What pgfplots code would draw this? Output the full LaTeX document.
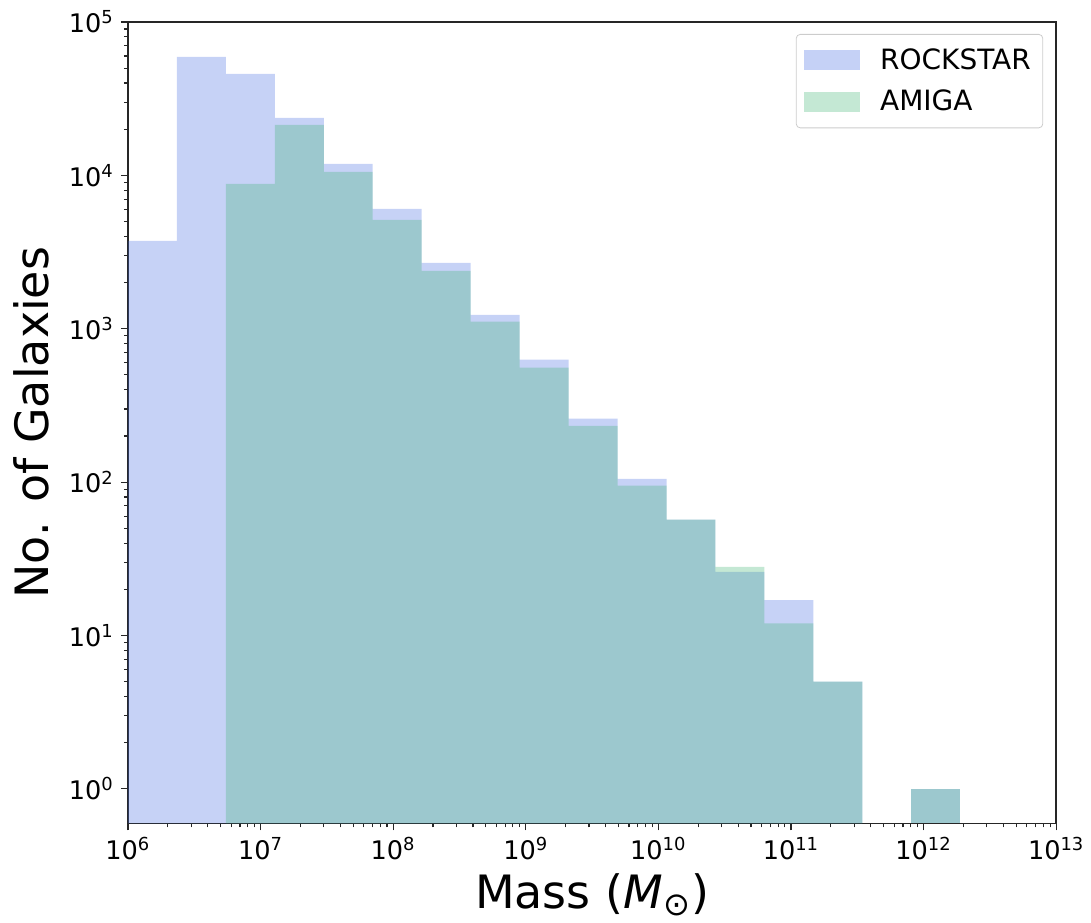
\documentclass[border=0pt]{standalone}
\usepackage{pgfplots}
\pgfplotsset{compat=1.18}
\usepackage{fontspec}
\setmainfont{DejaVu Sans}

\definecolor{rsblue}{RGB}{65,105,225}
\definecolor{amgreen}{RGB}{60,179,113}

% Galaxy mass histograms (log-spaced bins, left edges; last row closes the final bin)
\pgfplotstableread{
edge      count
1.000e6   3740
2.340e6   59150
5.476e6   45840
1.282e7   23700
2.999e7   11890
7.019e7   6050
1.642e8   2692
3.842e8   1233
8.990e8   628
2.104e9   259
4.924e9   105
1.152e10  57
2.697e10  26
6.310e10  17
1.476e11  5
3.455e11  5
}\rockstar
\pgfplotstableread{
edge      count
8.087e11  1
1.892e12  1
}\rockstarhigh
\pgfplotstableread{
edge      count
5.476e6   8810
1.282e7   21330
2.999e7   10540
7.019e7   5130
1.642e8   2387
3.842e8   1111
8.990e8   557
2.104e9   233
4.924e9   95
1.152e10  57
2.697e10  28
6.310e10  12
1.476e11  5
3.455e11  5
}\amiga
\pgfplotstableread{
edge      count
8.087e11  1
1.892e12  1
}\amigahigh

\begin{document}
\begin{tikzpicture}
\begin{axis}[
  scale only axis,
  width=464.5pt, height=401pt,
  xmode=log, ymode=log,
  log origin=infty,
  xmin=1e6, xmax=1e13,
  ymin=0.596, ymax=1e5,
  axis line style={black!85, line width=0.8pt},
  tick align=outside,
  tick pos=left,
  major tick length=3.5pt,
  minor tick length=2pt,
  every tick/.style={black!85, line width=0.6pt},
  xtick={1e6,1e7,1e8,1e9,1e10,1e11,1e12,1e13},
  xticklabels={10\textsuperscript{6},10\textsuperscript{7},10\textsuperscript{8},10\textsuperscript{9},10\textsuperscript{10},10\textsuperscript{11},10\textsuperscript{12},10\textsuperscript{13}},
  ytick={1,10,100,1000,10000,100000},
  yticklabels={10\textsuperscript{0},10\textsuperscript{1},10\textsuperscript{2},10\textsuperscript{3},10\textsuperscript{4},10\textsuperscript{5}},
  tick label style={font=\fontsize{12.8}{15}\selectfont},
  xlabel={Mass (\textit{M}\textsubscript{⊙})},
  ylabel={No. of Galaxies},
  label style={font=\fontsize{23}{27}\selectfont},
  xlabel style={at={(axis description cs:0.5,-0.106)}, anchor=base},
  ylabel style={at={(axis description cs:-0.085,0.5)}, anchor=base},
  legend style={
    at={(0.986,0.985)}, anchor=north east,
    font=\fontsize{14}{16}\selectfont,
    draw=black!20, rounded corners=2pt, fill=white, fill opacity=0.8, text opacity=1,
    inner xsep=4pt, inner ysep=5pt, row sep=5pt,
  },
  legend cell align=left,
  legend image code/.code={
    \fill[#1, sharp corners] (0pt,-5pt) rectangle (28pt,5pt);
    \path (0pt,0pt) (36pt,0pt);
  },
]
\addplot[ybar interval, draw=none, fill=rsblue, fill opacity=0.3] table[x=edge, y=count] {\rockstar};
\addlegendentry{ROCKSTAR}
\addplot[ybar interval, draw=none, fill=amgreen, fill opacity=0.3] table[x=edge, y=count] {\amiga};
\addlegendentry{AMIGA}
\addplot[ybar interval, draw=none, fill=rsblue, fill opacity=0.3, forget plot] table[x=edge, y=count] {\rockstarhigh};
\addplot[ybar interval, draw=none, fill=amgreen, fill opacity=0.3, forget plot] table[x=edge, y=count] {\amigahigh};
\end{axis}
% page margins around the axis box
\path (current axis.south west) ++(-64pt,-47pt) (current axis.north east) ++(17pt,11pt);
\end{tikzpicture}
\end{document}
